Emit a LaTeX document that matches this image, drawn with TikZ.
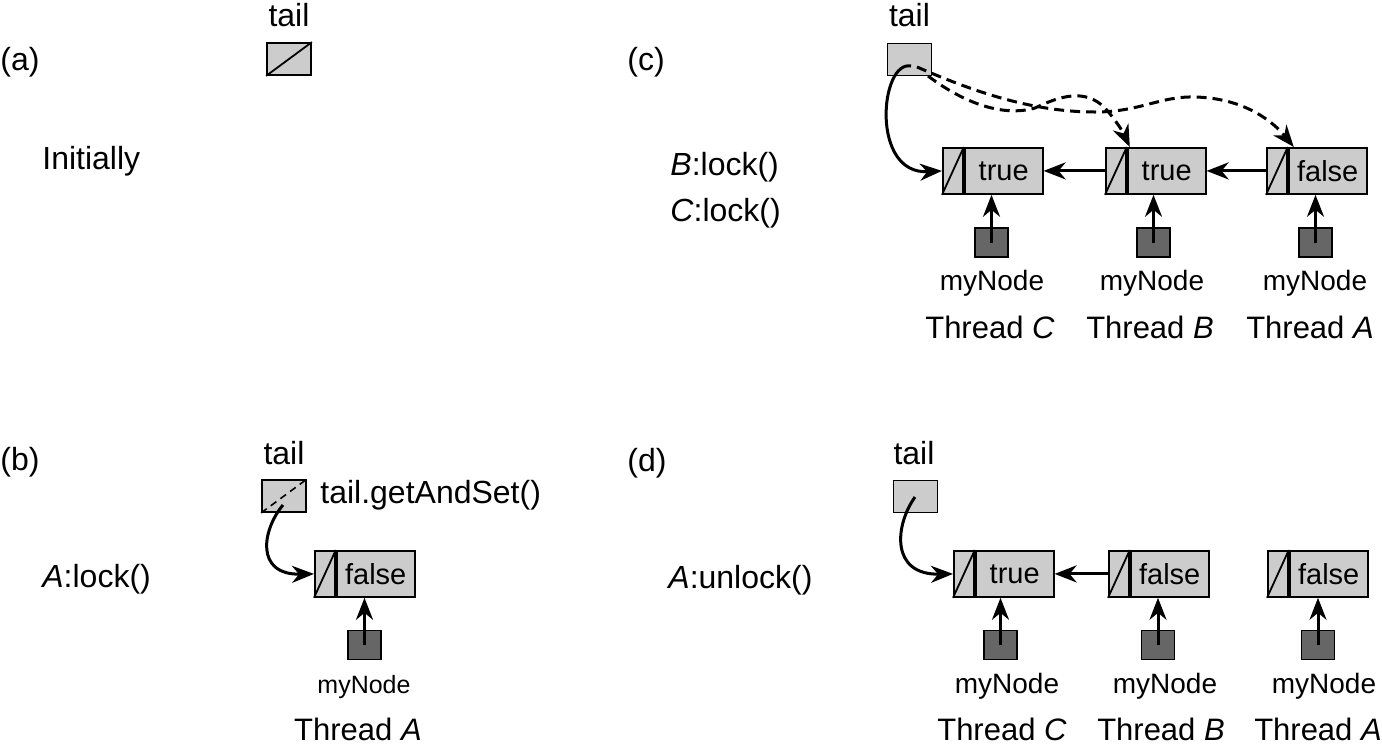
\documentclass[tikz,border=0pt]{standalone}
\usepackage{fontspec}
\setmainfont{Liberation Sans}
\usetikzlibrary{arrows.meta,calc}
\definecolor{cellgray}{HTML}{CCCCCC}
\definecolor{boxdark}{HTML}{666666}
\newcommand\qcell[4]{%
  \node[lcell] (#1l) at (#2,#3) {};
  \draw[line width=0.9pt] (#1l.south west) -- (#1l.north east);
  \node[rcell] (#1r) at (#1l.east) {#4};
}
\begin{document}
\begin{tikzpicture}[x=0.5pt,y=-0.5pt,
  lcell/.style={draw, fill=cellgray, line width=0.9pt, minimum width=10pt, minimum height=23pt, inner sep=0pt, anchor=north west},
  rcell/.style={draw, fill=cellgray, line width=0.9pt, minimum width=39pt, minimum height=23pt, inner sep=0pt, anchor=west, font=\fontsize{14.5}{17}\selectfont},
  tailbox/.style={draw, fill=cellgray, line width=0.9pt, minimum width=22pt, minimum height=16pt, inner sep=0pt},
  mybox/.style={draw, fill=boxdark, line width=0.9pt, minimum width=16.5pt, minimum height=14.5pt, inner sep=0pt},
  ptr/.style={line width=1.5pt, -{Stealth[length=11pt,width=8.5pt,inset=3.5pt]}},
  dptr/.style={line width=1.5pt, dash pattern=on 5pt off 3pt, -{Stealth[length=11pt,width=8.5pt,inset=3.5pt]}},
  lbl/.style={anchor=base west, inner sep=0pt, font=\fontsize{16}{19}\selectfont},
  clbl/.style={anchor=base, inner sep=0pt, font=\fontsize{16}{19}\selectfont},
  mlbl/.style={anchor=base, inner sep=0pt, font=\fontsize{14}{17}\selectfont},
  tlbl/.style={anchor=base, inner sep=0pt, font=\fontsize{15.5}{18}\selectfont},
]
\useasboundingbox (0,0) rectangle (1382,745);

% ---------------- (a)
\node[lbl] (la) at (0,70) {(a)};
\node[lbl] (inita) at (42,169) {Initially};
\node[tailbox] (atail) at (289,59) {};
\draw[line width=0.9pt] (atail.south west) -- (atail.north east);
\node[clbl] (atl) at (289,26) {tail};

% ---------------- (b)
\node[lbl] (lb) at (0,470) {(b)};
\node[lbl] (acb) at (42,587) {\textit{A}:lock()};
\node[tailbox] (btail) at (284,496) {};
\draw[line width=0.8pt, dash pattern=on 3.5pt off 2.5pt] (btail.south west) -- (btail.north east);
\node[clbl] (btl) at (284,464) {tail};
\node[lbl] (gas) at (320,503) {tail.getAndSet()};
\qcell{bq}{314}{550}{false}
\coordinate (bts) at (283,505);
\draw[ptr] (bts) .. controls (262,530) and (255,575) .. (bql.west);
\node[mybox] (bm) at (364.5,645) {};
\draw[ptr] (bm.center) -- (bm.center |- bqr.south);
\node[anchor=base, inner sep=0pt, font=\fontsize{12.5}{15}\selectfont] (bmn) at (364,693) {myNode};
\node[tlbl] (bth) at (358,740) {Thread \textit{A}};

% ---------------- (c)
\node[lbl] (lc) at (627,70) {(c)};
\node[lbl] (bcl) at (670,175) {\textit{B}:lock()};
\node[lbl] (ccl) at (670,221) {\textit{C}:lock()};
\node[tailbox] (ctail) at (909.5,59.5) {};
\node[clbl] (ctl) at (909.5,26) {tail};
\qcell{ca}{942}{147}{true}
\qcell{cb}{1105}{147}{true}
\qcell{cc}{1266}{147}{false}
\draw[ptr] (cbl.west) -- (car.east);
\draw[ptr] (ccl.west) -- (cbr.east);
\coordinate (cts) at (911,66);
\coordinate (cds1) at (928,76);
\coordinate (cds2) at (917,67);
\coordinate (cbtip) at ([xshift=1.5pt]cbr.north west);
\coordinate (cctip) at ([xshift=3pt]ccr.north west);
\draw[ptr] (cts) .. controls (880,60) and (870,175) .. (cal.west);
\draw[dptr] (cds1) .. controls (960,100) and (1000,118) .. (1035,108)
  .. controls (1060,96) and (1085,88) .. (1105,108)
  .. controls (1114,118) and (1122,130) .. (cbtip);
\draw[dptr] (cds2) .. controls (970,90) and (1030,112) .. (1095,112)
  .. controls (1140,112) and (1160,96) .. (1195,97)
  .. controls (1240,98) and (1270,118) .. (cctip);
\node[mybox] (cm1) at (991.5,242.5) {};
\node[mybox] (cm2) at (1153.5,242.5) {};
\node[mybox] (cm3) at (1315.5,242.5) {};
\draw[ptr] (cm1.center) -- (cm1.center |- car.south);
\draw[ptr] (cm2.center) -- (cm2.center |- cbr.south);
\draw[ptr] (cm3.center) -- (cm3.center |- ccr.south);
\node[mlbl] (cmn1) at (992,290) {myNode};
\node[mlbl] (cmn2) at (1152,290) {myNode};
\node[mlbl] (cmn3) at (1315,290) {myNode};
\node[tlbl] (cth1) at (990,338) {Thread \textit{C}};
\node[tlbl] (cth2) at (1150,338) {Thread \textit{B}};
\node[tlbl] (cth3) at (1310,338) {Thread \textit{A}};

% ---------------- (d)
\node[lbl] (ld) at (627,471) {(d)};
\node[lbl] (aud) at (668,588) {\textit{A}:unlock()};
\node[tailbox] (dtail) at (915.5,496.5) {};
\node[clbl] (dtl) at (914,464) {tail};
\qcell{da}{953}{550}{true}
\qcell{db}{1108}{550}{false}
\qcell{dc}{1267}{550}{false}
\draw[ptr] (dbl.west) -- (dar.east);
\coordinate (dts) at (915,497);
\draw[ptr] (dts) .. controls (895,525) and (890,575) .. (dal.west);
\node[mybox] (dm1) at (1000.5,645) {};
\node[mybox] (dm2) at (1158,645) {};
\node[mybox] (dm3) at (1318,645) {};
\draw[ptr] (dm1.center) -- (dm1.center |- dar.south);
\draw[ptr] (dm2.center) -- (dm2.center |- dbr.south);
\draw[ptr] (dm3.center) -- (dm3.center |- dcr.south);
\node[mlbl] (dmn1) at (1007,693) {myNode};
\node[mlbl] (dmn2) at (1165,693) {myNode};
\node[mlbl] (dmn3) at (1324,693) {myNode};
\node[tlbl] (dth1) at (1002,740) {Thread \textit{C}};
\node[tlbl] (dth2) at (1161,740) {Thread \textit{B}};
\node[tlbl] (dth3) at (1318,740) {Thread \textit{A}};
\end{tikzpicture}
\end{document}
